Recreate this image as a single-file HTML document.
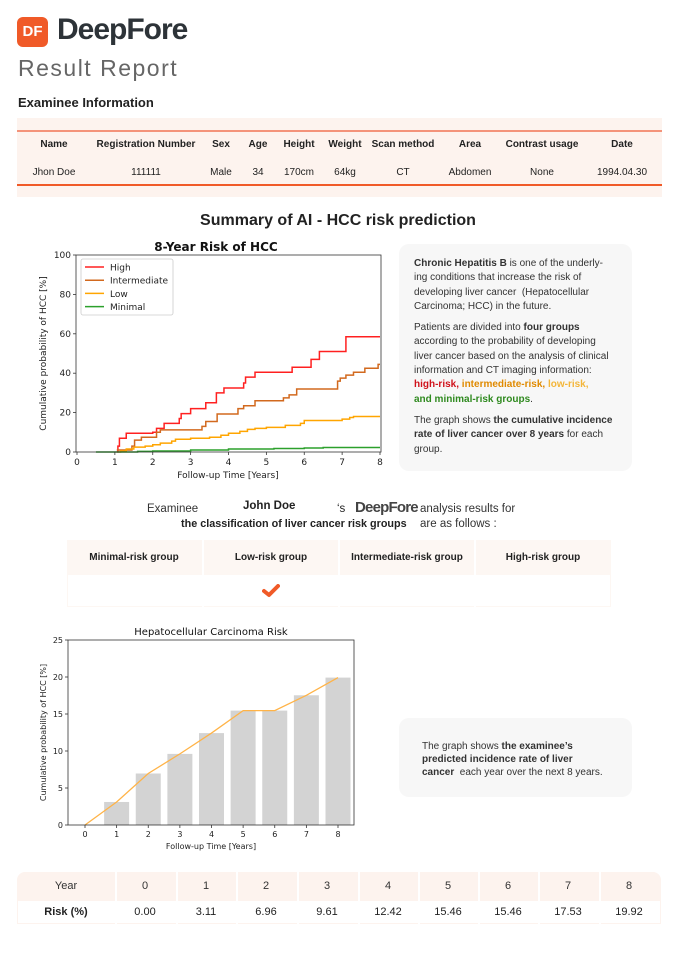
<!DOCTYPE html>
<html><head><meta charset="utf-8">
<style>
body{margin:0;width:678px;height:960px;background:#fff;font-family:"Liberation Sans","DejaVu Sans",sans-serif;position:relative;overflow:hidden;color:#222}
.a{position:absolute;white-space:nowrap}
.c{transform:translateX(-50%)}
.b{font-weight:bold}
</style></head><body>
<div class="a" style="left:17px;top:17px;width:31px;height:30px;background:#f05a28;border-radius:6px;color:#fff;font-size:15px;font-weight:bold;line-height:30px;text-align:center">DF</div>
<div class="a" style="left:57px;top:13px;font-size:30px;font-weight:bold;color:#2d3338;letter-spacing:-1px">DeepFore</div>
<div class="a" style="left:18px;top:55px;font-size:23px;color:#666;letter-spacing:1.5px">Result Report</div>
<div class="a b" style="left:18px;top:95px;font-size:13px">Examinee Information</div>
<div class="a" style="left:17px;top:118px;width:645px;height:79px;background:#fdf3ee"></div>
<div class="a" style="left:17px;top:130px;width:645px;height:1.5px;background:#f4937a"></div>
<div class="a" style="left:17px;top:184px;width:645px;height:1.5px;background:#f05a28"></div>
<div style="font-size:10px">
<div class="a b c" style="left:54px;top:139px">Name</div><div class="a c" style="left:54px;top:167px">Jhon Doe</div>
<div class="a b c" style="left:146px;top:139px">Registration Number</div><div class="a c" style="left:146px;top:167px">111111</div>
<div class="a b c" style="left:221px;top:139px">Sex</div><div class="a c" style="left:221px;top:167px">Male</div>
<div class="a b c" style="left:258px;top:139px">Age</div><div class="a c" style="left:258px;top:167px">34</div>
<div class="a b c" style="left:299px;top:139px">Height</div><div class="a c" style="left:299px;top:167px">170cm</div>
<div class="a b c" style="left:345px;top:139px">Weight</div><div class="a c" style="left:345px;top:167px">64kg</div>
<div class="a b c" style="left:403px;top:139px">Scan method</div><div class="a c" style="left:403px;top:167px">CT</div>
<div class="a b c" style="left:470px;top:139px">Area</div><div class="a c" style="left:470px;top:167px">Abdomen</div>
<div class="a b c" style="left:542px;top:139px">Contrast usage</div><div class="a c" style="left:542px;top:167px">None</div>
<div class="a b c" style="left:622px;top:139px">Date</div><div class="a c" style="left:622px;top:167px">1994.04.30</div>
</div>
<div class="a b c" style="left:338px;top:212px;font-size:16px">Summary of AI - HCC risk prediction</div>

<svg class="a" style="left:0;top:230px" width="395" height="260" id="s1" font-family="DejaVu Sans,sans-serif"></svg>

<div class="a" style="left:399px;top:244px;width:233px;height:227px;background:#f7f7f7;border-radius:10px"></div>
<div class="a" style="left:414px;top:257px;font-size:10px;line-height:14.3px;color:#333">
<p style="margin:0 0 7px"><b>Chronic Hepatitis B</b> is one of the underly-<br>ing conditions that increase the risk of<br>developing liver cancer &nbsp;(Hepatocellular<br>Carcinoma; HCC) in the future.</p>
<p style="margin:0 0 7px">Patients are divided into <b>four groups</b><br>according to the probability of developing<br>liver cancer based on the analysis of clinical<br>information and CT imaging information:<br><b style="color:#d0121b">high-risk,</b> <b style="color:#e08a00">intermediate-risk,</b> <b style="color:#f3b63a">low-risk,</b><br><b style="color:#2f8a1f">and minimal-risk groups</b>.</p>
<p style="margin:0">The graph shows <b>the cumulative incidence<br>rate of liver cancer over 8 years</b> for each<br>group.</p>
</div>

<div class="a" style="left:147px;top:503px;font-size:11.5px;color:#333">Examinee</div>
<div class="a b" style="left:243px;top:500px;font-size:11.5px">John Doe</div>
<div class="a" style="left:337px;top:503px;font-size:11.5px">‘s</div>
<div class="a b" style="left:355px;top:499px;font-size:15px;color:#444;letter-spacing:-0.8px">DeepFore</div>
<div class="a" style="left:420px;top:503px;font-size:11.5px;color:#333">analysis results for</div>
<div class="a b" style="left:181px;top:518px;font-size:10.8px">the classification of liver cancer risk groups</div>
<div class="a" style="left:420px;top:518px;font-size:11.5px;color:#333">are as follows :</div>

<div class="a" style="left:67px;top:540px;width:544px;height:67px;background:#fdf7f3"></div>
<div class="a" style="left:68px;top:575px;width:542px;height:31px;background:#fff"></div>
<div class="a" style="left:202px;top:540px;width:2px;height:67px;background:#fff"></div>
<div class="a" style="left:338px;top:540px;width:2px;height:67px;background:#fff"></div>
<div class="a" style="left:474px;top:540px;width:2px;height:67px;background:#fff"></div>
<div style="font-size:10px;font-weight:bold">
<div class="a c" style="left:134px;top:552px">Minimal-risk group</div>
<div class="a c" style="left:271px;top:552px">Low-risk group</div>
<div class="a c" style="left:407px;top:552px">Intermediate-risk group</div>
<div class="a c" style="left:543px;top:552px">High-risk group</div>
</div>
<svg class="a" style="left:262px;top:584px" width="18" height="14"><path d="M2 7 L7 11 L16 2" stroke="#f05a28" stroke-width="4" fill="none" stroke-linecap="round" stroke-linejoin="round"/></svg>

<svg class="a" style="left:0;top:620px" width="370" height="240" id="s2" font-family="DejaVu Sans,sans-serif"></svg>

<div class="a" style="left:399px;top:718px;width:233px;height:79px;background:#f7f7f7;border-radius:10px"></div>
<div class="a" style="left:422px;top:740px;font-size:10px;line-height:13px;color:#333">The graph shows <b>the examinee’s<br>predicted incidence rate of liver<br>cancer</b> &nbsp;each year over the next 8 years.</div>

<div class="a" style="left:17px;top:872px;width:644px;height:52px;background:#fdf3ee;border-radius:8px 8px 0 0"></div>
<div class="a" style="left:18px;top:901px;width:642px;height:22px;background:#fff"></div>
<div id="tb"></div>

<script>
var NS="http://www.w3.org/2000/svg";
function el(p,t,a,txt){var e=document.createElementNS(NS,t);for(var k in a)e.setAttribute(k,a[k]);if(txt!=null)e.textContent=txt;p.appendChild(e);return e;}
var s=document.getElementById('s1'),oy=230;
var L=76,R=381,T=255-oy,B=452-oy;
function X(v){return 77+v*(380-77)/8} function Y(v){return B-v*(B-T)/100}
function step(pts,col){var d="M"+X(pts[0][0])+" "+Y(pts[0][1]);for(var i=1;i<pts.length;i++){d+=" H"+X(pts[i][0])+" V"+Y(pts[i][1]);}d+=" H"+X(8);el(s,'path',{d:d,stroke:col,'stroke-width':1.5,fill:'none'});}
step([[1.05,0],[1.08,3],[1.12,7],[1.3,9.5],[2.0,10],[2.1,12],[2.3,14.5],[2.7,17],[2.75,19.5],[3.0,22],[3.4,25],[3.68,30],[3.88,32.5],[4.4,35],[4.45,38],[4.7,40.5],[5.68,43],[6.18,47],[6.4,51],[7.1,58.5]],'#ff2020');
step([[1.05,1],[1.45,3],[1.52,6],[1.7,7.5],[2.1,10],[2.2,11.2],[3.3,13],[3.4,15.5],[3.7,19.3],[4.25,22],[4.4,23.5],[4.7,26],[5.45,27.5],[5.6,29],[5.8,32],[6.88,36],[6.95,37.5],[7.1,39],[7.3,40.5],[7.6,42.5],[7.95,44.5]],'#d2691e');
step([[1.1,0],[1.15,0.5],[1.3,1.5],[1.5,2.5],[1.8,3],[2.0,3.7],[2.2,4.5],[2.5,5.5],[2.6,6.5],[3.0,7],[3.5,7.5],[3.8,8.5],[4.0,9.5],[4.3,10.5],[4.5,11.5],[4.7,12],[5.0,12.5],[5.5,13.5],[5.9,14.5],[6.0,16],[7.0,16.7],[7.2,17.5],[7.3,18]],'#ffa500');
step([[0.5,0],[1.6,0.3],[2.0,0.5],[3.0,1],[4.0,1.5],[5.2,1.8],[6.0,2.0],[6.5,2.3]],'#2ca02c');
el(s,'rect',{x:L,y:T,width:R-L,height:B-T,fill:'none',stroke:'#333','stroke-width':0.8});
for(var i=0;i<=8;i++){el(s,'line',{x1:X(i),x2:X(i),y1:B,y2:B+3,stroke:'#333','stroke-width':0.8});el(s,'text',{x:X(i),y:B+13,'font-size':9,'text-anchor':'middle',fill:'#222'},i);}
for(var v=0;v<=100;v+=20){el(s,'line',{x1:L-3,x2:L,y1:Y(v),y2:Y(v),stroke:'#333','stroke-width':0.8});el(s,'text',{x:L-5,y:Y(v)+3,'font-size':9,'text-anchor':'end',fill:'#222'},v);}
el(s,'text',{x:228,y:B+26,'font-size':9,'text-anchor':'middle',fill:'#222'},'Follow-up Time [Years]');
el(s,'text',{x:0,y:0,'font-size':9,'text-anchor':'middle',fill:'#222',transform:'translate(46,'+((T+B)/2)+') rotate(-90)'},'Cumulative probability of HCC [%]');
el(s,'text',{x:216,y:T-4,'font-size':12,'font-weight':'bold','text-anchor':'middle',fill:'#111'},'8-Year Risk of HCC');
el(s,'rect',{x:81,y:T+4,width:92,height:56,fill:'#fff',stroke:'#ccc','stroke-width':0.8,rx:2});
[['High','#ff2020'],['Intermediate','#d2691e'],['Low','#ffa500'],['Minimal','#2ca02c']].forEach(function(a,i){var yy=T+12+i*13.2;el(s,'line',{x1:85,x2:104,y1:yy,y2:yy,stroke:a[1],'stroke-width':1.5});el(s,'text',{x:110,y:yy+3.5,'font-size':9,fill:'#222'},a[0]);});
var s2=document.getElementById('s2'),o2=620;
var L2=68,R2=354,T2=640-o2,B2=825-o2;
function X2(v){return 85+v*(338-85)/8} function Y2(v){return B2-v*(B2-T2)/25}
var data=[0,3.11,6.96,9.61,12.42,15.46,15.46,17.53,19.92];
for(var i=1;i<=8;i++)el(s2,'rect',{x:X2(i)-12.5,y:Y2(data[i]),width:25,height:B2-Y2(data[i]),fill:'#d3d3d3'});
el(s2,'polyline',{points:data.map(function(v,i){return X2(i)+','+Y2(v)}).join(' '),stroke:'#ffb347','stroke-width':1.3,fill:'none'});
el(s2,'rect',{x:L2,y:T2,width:R2-L2,height:B2-T2,fill:'none',stroke:'#333','stroke-width':0.8});
for(var i=0;i<=8;i++){el(s2,'line',{x1:X2(i),x2:X2(i),y1:B2,y2:B2+3,stroke:'#333','stroke-width':0.8});el(s2,'text',{x:X2(i),y:B2+12,'font-size':8,'text-anchor':'middle',fill:'#222'},i);}
for(var v=0;v<=25;v+=5){el(s2,'line',{x1:L2-3,x2:L2,y1:Y2(v),y2:Y2(v),stroke:'#333','stroke-width':0.8});el(s2,'text',{x:L2-5,y:Y2(v)+3,'font-size':8,'text-anchor':'end',fill:'#222'},v);}
el(s2,'text',{x:211,y:B2+24,'font-size':8,'text-anchor':'middle',fill:'#222'},'Follow-up Time [Years]');
el(s2,'text',{x:0,y:0,'font-size':8,'text-anchor':'middle',fill:'#222',transform:'translate(46,'+((T2+B2)/2)+') rotate(-90)'},'Cumulative probability of HCC [%]');
el(s2,'text',{x:211,y:T2-5,'font-size':10,'text-anchor':'middle',fill:'#111'},'Hepatocellular Carcinoma Risk');
var tb=document.getElementById('tb');
var xs=[66,145,206,266,327,388,448,508,568,629];
var h=['Year','0','1','2','3','4','5','6','7','8'],r=['Risk (%)','0.00','3.11','6.96','9.61','12.42','15.46','15.46','17.53','19.92'];
var html='';
for(var i=0;i<10;i++){html+='<div class="a c" style="left:'+xs[i]+'px;top:880px;font-size:11px;color:#333">'+h[i]+'</div>';
html+='<div class="a c" style="left:'+xs[i]+'px;top:906px;font-size:11px;'+(i==0?'font-weight:bold':'')+'">'+r[i]+'</div>';
if(i>0)html+='<div class="a" style="left:'+(xs[i]-30)+'px;top:872px;width:2px;height:52px;background:#fff"></div>';}
tb.innerHTML=html;
</script>
</body></html>
